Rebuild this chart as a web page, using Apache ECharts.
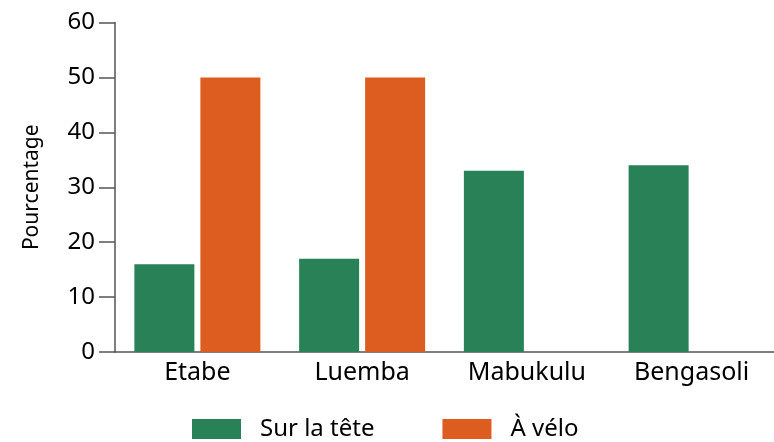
<!DOCTYPE html>
<html>
<head>
<meta charset="utf-8">
<script src="https://cdn.jsdelivr.net/npm/echarts@6/dist/echarts.min.js"></script>
<style>html,body{margin:0;padding:0;background:#fff}#c{width:774px;height:442px}</style>
</head>
<body>
<div id="c"></div>
<script>
const categories = ['Etabe', 'Luemba', 'Mabukulu', 'Bengasoli'];
const surLaTete = [16, 17, 33, 34];
const aVelo = [50, 50, null, null];
const seriesNames = ['Sur la tête', 'À vélo'];
const yTicks = [0, 10, 20, 30, 40, 50, 60];

const chart = echarts.init(document.getElementById('c'), null, {renderer: 'canvas'});
const font = '"Noto Sans", "Liberation Sans", sans-serif';
chart.setOption({
  animation: false,
  textStyle: {fontFamily: font},
  grid: {left: 115, right: 0, top: 22.5, bottom: 90, outerBoundsMode: 'none'},
  legend: {
    left: 192, top: 417, padding: 0,
    itemWidth: 49, itemHeight: 20, itemGap: 68,
    icon: 'rect',
    textStyle: {fontSize: 24, color: '#000', fontFamily: font, padding: [0, 0, 0, 14]},
    data: seriesNames
  },
  xAxis: {
    type: 'category',
    data: categories,
    axisLine: {lineStyle: {color: '#555', width: 1.5}},
    axisTick: {length: 8, lineStyle: {color: '#555', width: 1.5}},
    axisLabel: {fontSize: 25, color: '#000', margin: 8, fontFamily: font}
  },
  yAxis: {
    type: 'value',
    min: yTicks[0], max: yTicks[yTicks.length - 1], interval: 10,
    name: 'Pourcentage', nameLocation: 'middle', nameGap: 72,
    nameTextStyle: {fontSize: 21, color: '#000', fontFamily: font},
    axisLine: {show: true, lineStyle: {color: '#555', width: 1.5}},
    axisTick: {show: true, length: 16, lineStyle: {color: '#555', width: 1.5}},
    splitLine: {show: false},
    axisLabel: {fontSize: 24, color: '#000', margin: 20, fontFamily: font}
  },
  series: [
    {name: seriesNames[0], type: 'bar', data: surLaTete, barWidth: 60, barGap: '10%', itemStyle: {color: '#298157'}},
    {name: seriesNames[1], type: 'bar', data: aVelo, barWidth: 60, barGap: '10%', itemStyle: {color: '#dd5c20'}}
  ]
});
</script>
</body>
</html>
